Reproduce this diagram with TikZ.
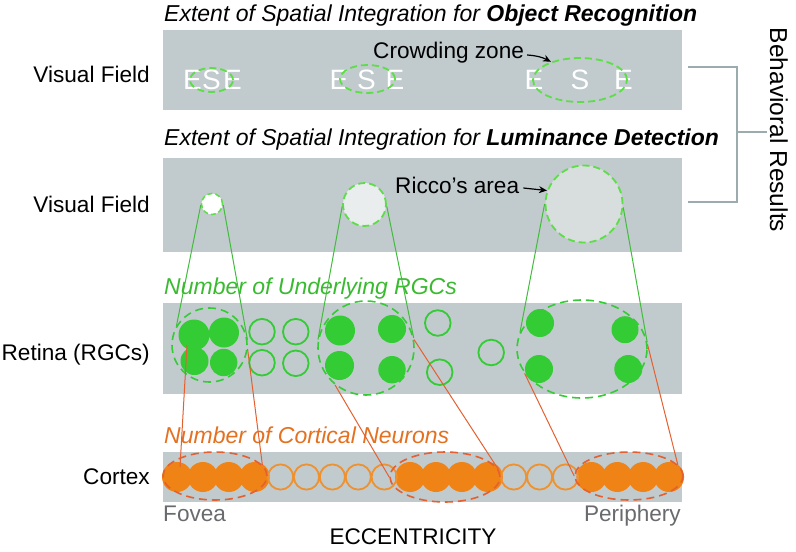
\documentclass[tikz,border=0pt]{standalone}
\usepackage{fontspec}
\setmainfont{Liberation Sans}
\usetikzlibrary{shapes.geometric,arrows.meta}

\definecolor{bandgray}{RGB}{193,202,205}
\definecolor{rgcgreen}{RGB}{52,204,52}
\definecolor{dashgreen}{RGB}{92,222,70}
\definecolor{linegreen}{RGB}{66,188,60}
\definecolor{ttlgreen}{RGB}{58,186,48}
\definecolor{cxorange}{RGB}{240,131,22}
\definecolor{cxopen}{RGB}{238,146,48}
\definecolor{cxred}{RGB}{228,96,48}
\definecolor{ttlorange}{RGB}{228,112,32}
\definecolor{txtgray}{RGB}{104,106,110}
\definecolor{brgray}{RGB}{156,171,174}
\definecolor{riccofill}{RGB}{216,222,222}
\definecolor{midfill}{RGB}{234,237,237}

\begin{document}
\begin{tikzpicture}[x=1pt,y=-1pt,
  lbl/.style={inner sep=0pt,font=\fontsize{22.6}{26}\selectfont},
  ttl/.style={lbl,font=\fontsize{23}{26}\selectfont\itshape},
  ese/.style={inner sep=0pt,text=white,font=\fontsize{28}{30}\selectfont},
  vfzone/.style={draw=dashgreen,line width=1.8pt,dash pattern=on 7pt off 4pt,inner sep=0pt},
  rgczone/.style={ellipse,draw=rgcgreen,line width=1.6pt,dash pattern=on 8pt off 5pt,inner sep=0pt},
  cxzone/.style={ellipse,draw=cxred,line width=1.6pt,dash pattern=on 8pt off 5pt,inner sep=0pt},
  glink/.style={draw=linegreen,line width=1pt},
  olink/.style={draw=cxred,line width=1pt},
  brk/.style={draw=brgray,line width=2pt},
  ptr/.style={-{Stealth[length=8pt,width=7pt]},line width=1.2pt}]
\useasboundingbox (0,0) rectangle (796,552);

% bands
\fill[bandgray] (163,30) rectangle (682,110);
\fill[bandgray] (163,158) rectangle (682,252);
\fill[bandgray] (163,303) rectangle (682,394);
\fill[bandgray] (163,452) rectangle (682,502);

% titles
\node[ttl,anchor=base west] (t1) at (164,21) {Extent of Spatial Integration for \textbf{Object Recognition}};
\node[ttl,anchor=base west] (t2) at (164,145) {Extent of Spatial Integration for \textbf{Luminance Detection}};
\node[ttl,anchor=base west,text=ttlgreen] (t3) at (164,294) {Number of Underlying RGCs};
\node[ttl,anchor=base west,text=ttlorange] (t4) at (164,443) {Number of Cortical Neurons};

% row labels
\node[lbl,anchor=base east] (vf1) at (150,82) {Visual Field};
\node[lbl,anchor=base east] (vf2) at (150,212) {Visual Field};
\node[lbl,anchor=base east] (ret) at (150,360) {Retina (RGCs)};
\node[lbl,anchor=base east] (ctx) at (150,484) {Cortex};
\node[lbl,anchor=base west,text=txtgray] (fov) at (163,521) {Fovea};
\node[lbl,anchor=base east,text=txtgray] (per) at (681,521) {Periphery};
\node[lbl,anchor=base] (ecc) at (413,544) {ECCENTRICITY};

% behavioral results
\draw[brk] (688,67) -- (737,67) -- (737,202) -- (688,202);
\draw[brk] (737,132) -- (767,132);
\node[lbl,rotate=-90,font=\fontsize{24.5}{28}\selectfont] (beh) at (779,130) {Behavioral Results};

% crowding
\node[ese] (ea1) at (192.5,80) {E};
\node[ese] (sa1) at (211.5,80) {S};
\node[ese] (eb1) at (232.5,80) {E};
\node[ese] (ea2) at (339,80) {E};
\node[ese] (sa2) at (366.5,80) {S};
\node[ese] (eb2) at (395,80) {E};
\node[ese] (ea3) at (534,80) {E};
\node[ese] (sa3) at (580,80) {S};
\node[ese] (eb3) at (623.5,80) {E};
\node[vfzone,ellipse,minimum width=43,minimum height=24] (cz1) at (211.5,80) {};
\node[vfzone,ellipse,minimum width=55,minimum height=28] (cz2) at (367.5,79) {};
\node[vfzone,ellipse,minimum width=94,minimum height=44] (cz3) at (580,80) {};
\node[lbl,anchor=base west] (crw) at (373,58) {Crowding zone};
\draw[ptr] ([xshift=3pt,yshift=3pt]crw.base east) to[bend left=12] (cz3.148);

% ricco
\node[vfzone,circle,fill=white,minimum size=21,dash pattern=on 5pt off 3pt,line width=1.5pt] (vs) at (212,204) {};
\node[vfzone,circle,fill=midfill,minimum size=43] (vm) at (364.5,204.5) {};
\node[vfzone,circle,fill=riccofill,minimum size=77] (vl) at (584,204) {};
\node[lbl,anchor=base west] (ric) at (395,193) {Ricco’s area};
\draw[ptr] ([xshift=4pt,yshift=5pt]ric.base east) -- (vl.160);

% RGCs
\fill[rgcgreen] (194,335) circle (15.5) (224,332.5) circle (15)
  (194.5,361) circle (14) (223.7,362.5) circle (13.7);
\fill[rgcgreen] (340,330.5) circle (15) (392,329) circle (14)
  (339.5,365.5) circle (14.5) (392,369.7) circle (13.7);
\fill[rgcgreen] (540,323) circle (14) (625,329.7) circle (13.5)
  (539,369) circle (14) (628.3,369) circle (14);
\draw[rgcgreen,line width=1.8pt] (262,331.7) circle (12.8) (295.8,331.7) circle (12.8)
  (262,362.7) circle (12.8) (295.8,363.3) circle (12.8)
  (437.8,323) circle (12.8) (439.7,372.2) circle (12.8) (491.2,352.5) circle (12.8);
\node[rgczone,minimum width=75,minimum height=74] (re1) at (209.5,345) {};
\node[rgczone,minimum width=96,minimum height=94] (re2) at (366,348) {};
\node[rgczone,minimum width=130,minimum height=98] (re3) at (582,349) {};

% cortical neurons
\fill[cxorange] (177,477) circle (15) (202.9,477) circle (15) (228.8,477) circle (15) (254.7,477) circle (15);
\fill[cxorange] (410.1,477) circle (15) (436,477) circle (15) (461.9,477) circle (15) (487.8,477) circle (15);
\fill[cxorange] (591.4,477) circle (15) (617.3,477) circle (15) (643.2,477) circle (15) (669.1,477) circle (15);
\draw[cxopen,line width=1.8pt] (280.6,477) circle (12.6) (306.5,477) circle (12.6) (332.4,477) circle (12.6)
  (358.3,477) circle (12.6) (384.2,477) circle (12.6);
\draw[cxopen,line width=1.8pt] (513.7,477) circle (12.6) (539.6,477) circle (12.6) (565.5,477) circle (12.6);
\node[cxzone,minimum width=104,minimum height=48] (ce1) at (215,476) {};
\node[cxzone,minimum width=110,minimum height=50] (ce2) at (445,477) {};
\node[cxzone,minimum width=108,minimum height=48] (ce3) at (629,476) {};

% visual field -> retina
\draw[glink] (vs.185) -- (re1.150);
\draw[glink] (vs.-5) -- (re1.8);
\draw[glink] (vm.185) -- (re2.170);
\draw[glink] (vm.-5) -- (re2.12);
\draw[glink] (vl.180) -- (re3.165);
\draw[glink] (vl.-5) -- (re3.6);

% retina -> cortex
\coordinate (o1) at (187,345);
\coordinate (o1e) at (180,467);
\draw[olink] (o1) -- (o1e);
\draw[olink] (re1.-6) -- (ce1.13);
\draw[olink] (re2.230) -- (ce2.180);
\draw[olink] (re2.10) -- (ce2.8);
\draw[olink] (re3.203) -- (ce3.180);
\draw[olink] (re3.4) -- (ce3.13);
\end{tikzpicture}
\end{document}
